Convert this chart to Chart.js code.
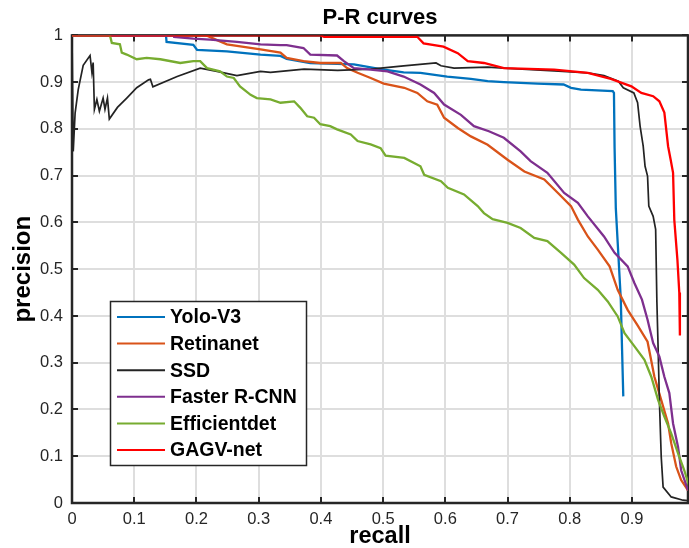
<!DOCTYPE html>
<html><head><meta charset="utf-8">
<script src="https://cdn.jsdelivr.net/npm/chart.js@4/dist/chart.umd.min.js"></script>
<style>html,body{margin:0;padding:0;background:#fff}#wrap{width:689px;height:548px}</style>
</head><body><div id="wrap"><canvas id="c" width="689" height="548"></canvas></div>
<script>
// ---- tick labels ----
const xTickValues = [0, 0.1, 0.2, 0.3, 0.4, 0.5, 0.6, 0.7, 0.8, 0.9];
const xTickLabels = ['0', '0.1', '0.2', '0.3', '0.4', '0.5', '0.6', '0.7', '0.8', '0.9'];
const yTickValues = [0, 0.1, 0.2, 0.3, 0.4, 0.5, 0.6, 0.7, 0.8, 0.9, 1];
const yTickLabels = ['0', '0.1', '0.2', '0.3', '0.4', '0.5', '0.6', '0.7', '0.8', '0.9', '1'];

// ---- series ----
const seriesNames = ['Yolo-V3', 'Retinanet', 'SSD', 'Faster R-CNN', 'Efficientdet', 'GAGV-net'];
const seriesColors = ['#0072BD', '#D95319', '#232323', '#7E2F8E', '#77AC30', '#FF0000'];

const yoloRecall = [0, 0.151, 0.152, 0.195, 0.201, 0.249, 0.303, 0.335, 0.345, 0.383, 0.426, 0.453, 0.496, 0.533, 0.56, 0.603, 0.641, 0.668, 0.694, 0.748, 0.79, 0.802, 0.818, 0.869, 0.871, 0.872, 0.874, 0.877, 0.882, 0.884, 0.886];
const yoloPrecision = [1, 1, 0.986, 0.98, 0.969, 0.966, 0.959, 0.956, 0.95, 0.941, 0.939, 0.938, 0.928, 0.921, 0.92, 0.912, 0.907, 0.902, 0.90, 0.897, 0.895, 0.888, 0.884, 0.881, 0.877, 0.76, 0.63, 0.557, 0.435, 0.33, 0.228];

const retinaRecall = [0, 0.216, 0.233, 0.249, 0.303, 0.335, 0.345, 0.372, 0.399, 0.432, 0.442, 0.459, 0.48, 0.501, 0.534, 0.555, 0.571, 0.587, 0.598, 0.62, 0.641, 0.668, 0.7, 0.727, 0.759, 0.781, 0.802, 0.813, 0.829, 0.845, 0.864, 0.877, 0.893, 0.909, 0.925, 0.936, 0.947, 0.958, 0.963, 0.971, 0.979, 0.99];
const retinaPrecision = [1, 1, 0.99, 0.981, 0.97, 0.963, 0.952, 0.945, 0.941, 0.941, 0.93, 0.92, 0.909, 0.897, 0.888, 0.877, 0.859, 0.852, 0.824, 0.802, 0.784, 0.766, 0.734, 0.709, 0.692, 0.663, 0.635, 0.606, 0.57, 0.542, 0.506, 0.456, 0.413, 0.38, 0.345, 0.27, 0.22, 0.17, 0.128, 0.078, 0.049, 0.027];

const ssdRecall = [0, 0.002, 0.005, 0.01, 0.018, 0.029, 0.032, 0.034, 0.036, 0.040, 0.044, 0.050, 0.053, 0.057, 0.060, 0.073, 0.088, 0.104, 0.123, 0.126, 0.130, 0.169, 0.206, 0.233, 0.265, 0.303, 0.319, 0.373, 0.427, 0.48, 0.533, 0.585, 0.593, 0.614, 0.668, 0.694, 0.775, 0.829, 0.855, 0.878, 0.886, 0.903, 0.909, 0.913, 0.918, 0.921, 0.925, 0.927, 0.934, 0.938, 0.940, 0.942, 0.944, 0.947, 0.95, 0.963, 0.982, 0.99];
const ssdPrecision = [1, 0.752, 0.834, 0.884, 0.936, 0.957, 0.921, 0.942, 0.842, 0.863, 0.838, 0.866, 0.842, 0.866, 0.821, 0.846, 0.866, 0.888, 0.905, 0.906, 0.89, 0.912, 0.93, 0.923, 0.914, 0.923, 0.921, 0.928, 0.925, 0.928, 0.935, 0.941, 0.935, 0.93, 0.932, 0.930, 0.924, 0.92, 0.914, 0.902, 0.888, 0.877, 0.856, 0.806, 0.763, 0.72, 0.699, 0.635, 0.613, 0.585, 0.43, 0.33, 0.22, 0.098, 0.034, 0.013, 0.006, 0.005];

const fasterRecall = [0, 0.163, 0.164, 0.195, 0.222, 0.265, 0.303, 0.335, 0.345, 0.372, 0.383, 0.426, 0.437, 0.453, 0.48, 0.507, 0.533, 0.56, 0.582, 0.598, 0.625, 0.646, 0.67, 0.694, 0.721, 0.737, 0.764, 0.791, 0.813, 0.829, 0.855, 0.872, 0.893, 0.904, 0.916, 0.925, 0.934, 0.944, 0.952, 0.96, 0.966, 0.974, 0.979, 0.99];
const fasterPrecision = [1, 1, 0.997, 0.993, 0.991, 0.986, 0.981, 0.979, 0.979, 0.973, 0.959, 0.957, 0.945, 0.93, 0.927, 0.923, 0.912, 0.895, 0.877, 0.852, 0.83, 0.806, 0.795, 0.781, 0.752, 0.731, 0.706, 0.663, 0.642, 0.613, 0.57, 0.535, 0.506, 0.47, 0.435, 0.392, 0.342, 0.313, 0.27, 0.235, 0.17, 0.12, 0.07, 0.027];

const effRecall = [0, 0.061, 0.064, 0.077, 0.080, 0.088, 0.104, 0.12, 0.142, 0.174, 0.195, 0.206, 0.217, 0.238, 0.249, 0.26, 0.27, 0.287, 0.297, 0.319, 0.335, 0.357, 0.367, 0.378, 0.389, 0.399, 0.415, 0.426, 0.448, 0.459, 0.48, 0.496, 0.504, 0.534, 0.56, 0.566, 0.593, 0.604, 0.63, 0.652, 0.662, 0.676, 0.7, 0.721, 0.743, 0.764, 0.786, 0.807, 0.823, 0.845, 0.861, 0.877, 0.888, 0.904, 0.92, 0.931, 0.942, 0.952, 0.963, 0.974, 0.984, 0.992];
const effPrecision = [1, 1, 0.984, 0.981, 0.963, 0.959, 0.949, 0.952, 0.949, 0.941, 0.945, 0.945, 0.93, 0.923, 0.912, 0.909, 0.891, 0.873, 0.866, 0.863, 0.856, 0.859, 0.845, 0.827, 0.824, 0.81, 0.806, 0.799, 0.788, 0.774, 0.767, 0.759, 0.743, 0.738, 0.72, 0.702, 0.688, 0.674, 0.66, 0.635, 0.62, 0.607, 0.599, 0.588, 0.567, 0.56, 0.535, 0.51, 0.481, 0.456, 0.431, 0.399, 0.363, 0.335, 0.306, 0.27, 0.22, 0.185, 0.149, 0.106, 0.07, 0.035];

const gagvRecall = [0, 0.40, 0.405, 0.555, 0.565, 0.597, 0.620, 0.636, 0.662, 0.694, 0.775, 0.829, 0.866, 0.899, 0.915, 0.934, 0.944, 0.952, 0.958, 0.962, 0.966, 0.968, 0.973, 0.976, 0.977];
const gagvPrecision = [1, 1, 0.997, 0.997, 0.983, 0.976, 0.962, 0.945, 0.941, 0.93, 0.927, 0.92, 0.907, 0.891, 0.877, 0.87, 0.859, 0.835, 0.763, 0.735, 0.706, 0.605, 0.52, 0.45, 0.358];

const recallSets = [yoloRecall, retinaRecall, ssdRecall, fasterRecall, effRecall, gagvRecall];
const precisionSets = [yoloPrecision, retinaPrecision, ssdPrecision, fasterPrecision, effPrecision, gagvPrecision];

const FONT = "'Liberation Sans', Arial, Helvetica, sans-serif";
const INK = '#262626';

const datasets = seriesNames.map((name, i) => ({
  label: name,
  data: recallSets[i].map((r, j) => ({x: r, y: precisionSets[i][j]})),
  borderColor: seriesColors[i],
  backgroundColor: seriesColors[i],
  borderWidth: i === 2 ? 1.7 : 2.3,
  pointRadius: 0,
  showLine: true,
  fill: false,
  tension: 0,
  order: seriesNames.length - i
}));

const framePlugin = {
  id: 'frame',
  beforeDatasetsDraw(chart) {
    const {ctx, chartArea: a, scales} = chart;
    ctx.save();
    ctx.strokeStyle = INK;
    ctx.lineWidth = 2;
    const tl = 6;
    ctx.beginPath();
    xTickValues.forEach(v => {
      const p = Math.round(scales.x.getPixelForValue(v));
      ctx.moveTo(p, a.bottom); ctx.lineTo(p, a.bottom - tl);
      ctx.moveTo(p, a.top); ctx.lineTo(p, a.top + tl);
    });
    yTickValues.forEach(v => {
      const p = Math.round(scales.y.getPixelForValue(v));
      ctx.moveTo(a.left, p); ctx.lineTo(a.left + tl, p);
      ctx.moveTo(a.right, p); ctx.lineTo(a.right - tl, p);
    });
    ctx.stroke();
    ctx.lineWidth = 2.5;
    ctx.strokeRect(a.left, a.top, a.right - a.left, a.bottom - a.top);
    ctx.restore();
  }
};

const legendPlugin = {
  id: 'boxLegend',
  afterDatasetsDraw(chart) {
    const {ctx} = chart;
    const bx = 110.5, by = 301.5, bw = 196, bh = 164;
    ctx.save();
    ctx.fillStyle = '#ffffff';
    ctx.fillRect(bx, by, bw, bh);
    ctx.strokeStyle = INK;
    ctx.lineWidth = 1.5;
    ctx.strokeRect(bx, by, bw, bh);
    ctx.font = "bold 19.5px " + FONT;
    ctx.textBaseline = 'middle';
    ctx.textAlign = 'left';
    chart.data.datasets.forEach((ds, i) => {
      const y = 317 + i * 26.6;
      ctx.strokeStyle = ds.borderColor;
      ctx.lineWidth = 2;
      ctx.beginPath();
      ctx.moveTo(117, y); ctx.lineTo(165, y);
      ctx.stroke();
      ctx.fillStyle = '#000';
      ctx.fillText(ds.label, 170, y + 1);
    });
    ctx.restore();
  }
};

new Chart(document.getElementById('c'), {
  type: 'scatter',
  data: {datasets},
  options: {
    responsive: false,
    animation: false,
    devicePixelRatio: 1,
    layout: {padding: {left: 0, right: 1, top: 0, bottom: 0}},
    plugins: {
      legend: {display: false},
      tooltip: {enabled: false},
      title: {
        display: true,
        text: 'P-R curves',
        fullSize: false,
        color: '#000',
        font: {family: FONT, size: 22, weight: 'bold', lineHeight: 1.2},
        padding: {top: 5, bottom: 4}
      }
    },
    scales: {
      x: {
        type: 'linear',
        min: 0, max: 0.99,
        afterBuildTicks: s => { s.ticks = xTickValues.map(v => ({value: v})); },
        afterFit: s => { s.height = 45; },
        ticks: {
          autoSkip: false, maxRotation: 0,
          color: INK, padding: 7,
          font: {family: FONT, size: 16.5},
          callback: v => { const k = xTickValues.indexOf(v); return k >= 0 ? xTickLabels[k] : ''; }
        },
        grid: {color: '#dedede', lineWidth: 2, drawTicks: false},
        border: {display: false},
        title: {display: true, text: 'recall', color: '#000', font: {family: FONT, size: 23.5, weight: 'bold', lineHeight: 1}, padding: {top: 0, bottom: 0}}
      },
      y: {
        type: 'linear',
        min: 0, max: 1,
        afterBuildTicks: s => { s.ticks = yTickValues.map(v => ({value: v})); },
        afterFit: s => { s.width = 72; },
        ticks: {
          autoSkip: false,
          color: INK, padding: 9,
          font: {family: FONT, size: 16.5},
          callback: v => { const k = yTickValues.indexOf(v); return k >= 0 ? yTickLabels[k] : ''; }
        },
        grid: {color: '#dedede', lineWidth: 2, drawTicks: false},
        border: {display: false},
        title: {display: true, text: 'precision', color: '#000', font: {family: FONT, size: 24, weight: 'bold', lineHeight: 1}, padding: {top: 11, bottom: 0}}
      }
    }
  },
  plugins: [framePlugin, legendPlugin]
});
</script>
</body></html>
